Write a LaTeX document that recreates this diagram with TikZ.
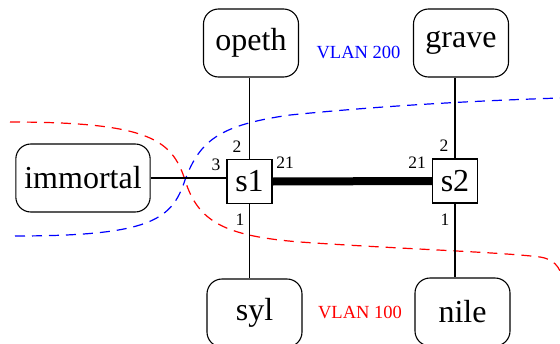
\documentclass[tikz,border=0pt]{standalone}
\usepackage{fontspec}
\setmainfont{Liberation Serif}
\begin{document}
\begin{tikzpicture}[x=1pt,y=-1pt,
  host/.style={draw, rounded corners=15pt, minimum width=95pt, minimum height=68pt,
    inner xsep=8.5pt, font=\fontsize{32}{38}\selectfont, line width=1.1pt},
  switch/.style={draw, minimum width=45pt, minimum height=44pt, inner sep=2pt,
    font=\fontsize{32}{38}\selectfont, line width=1.1pt, fill=white},
  port/.style={font=\fontsize{17.5}{20}\selectfont, inner sep=0pt},
  vlan/.style={font=\fontsize{18.5}{22}\selectfont, inner sep=0pt},
  link/.style={line width=1.1pt},
  trunk/.style={line width=8pt},
  area/.style={dash pattern=on 10pt off 7pt, line width=1.2pt}]
\useasboundingbox (0,0) rectangle (560,343);
\clip (0,0) rectangle (560,343);
% VLAN areas
\draw[area, red] (10,122) .. controls (150,122) and (172,140) .. (185,180)
  .. controls (198,222) and (225,236) .. (300,242)
  .. controls (400,249) and (500,252) .. (540,257)
  .. controls (553,259) and (560,266) .. (563,280);
\draw[area, blue] (15,236) .. controls (150,236) and (172,220) .. (185,180)
  .. controls (200,140) and (220,125) .. (290,115)
  .. controls (400,104) and (500,100) .. (560,98);
% nodes
\node[host] (opeth) at (251,43) {opeth};
\node[host] (grave) at (461,43) {grave};
\node[host] (immortal) at (83,178) {immortal};
\node[host] (syl) at (254.5,313) {syl};
\node[host] (nile) at (462.5,312) {nile};
\node[switch] (s1) at (249.5,181.5) {s1};
\node[switch] (s2) at (455,181) {s2};
% links
\draw[link] (s1.north) -- (s1.north |- opeth.south);
\draw[link] (s1.south) -- (s1.south |- syl.north);
\draw[link] (immortal.east) -- (immortal.east -| s1.west);
\draw[link] (s2.north) -- (s2.north |- grave.south);
\draw[link] (s2.south) -- (s2.south |- nile.north);
\draw[trunk] (s1.east) -- (s2.west);
% port labels
\node[port] (s1p2) at (237,147) {2};
\node[port] (s1p3) at (216,165) {3};
\node[port] (s1p1) at (240,220) {1};
\node[port] (s1p21) at (285,163) {21};
\node[port] (s2p2) at (444,146) {2};
\node[port] (s2p21) at (417,163) {21};
\node[port] (s2p1) at (445,220) {1};
% vlan labels
\node[vlan, text=blue] (v200) at (358.5,52) {VLAN 200};
\node[vlan, text=red] (v100) at (360,312) {VLAN 100};
\end{tikzpicture}
\end{document}
